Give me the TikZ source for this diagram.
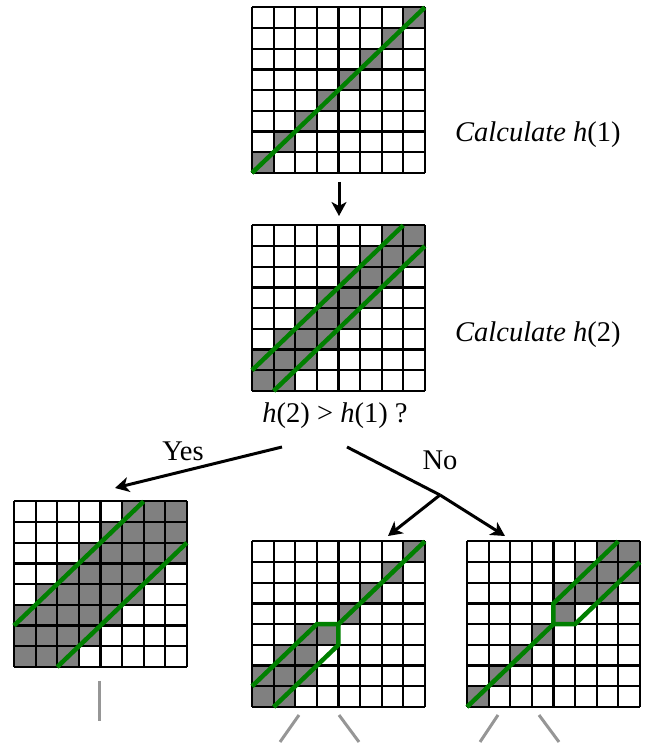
\documentclass[tikz,border=0pt]{standalone}
\usepackage{fontspec}
\setmainfont{Liberation Serif}
\usetikzlibrary{arrows.meta}
\definecolor{cellgray}{RGB}{128,128,128}
\definecolor{pathgreen}{RGB}{0,128,0}
\definecolor{branchgray}{RGB}{150,150,150}
\tikzset{
  gridline/.style={line width=2.2pt, black},
  greenline/.style={line width=4.5pt, pathgreen, line join=miter},
  flowarrow/.style={line width=3pt, black, -{Stealth[length=14pt,width=15pt,inset=4pt]}},
  flowline/.style={line width=3pt, black},
  grayline/.style={line width=3pt, branchgray},
  lbl/.style={font=\fontsize{28.5}{32}\selectfont, inner sep=0pt},
  gridscope/.style={x=21.6pt, y=20.7pt}
}
\newcommand{\drawgridlines}{%
  \foreach \i in {0,...,8} {
    \draw[gridline] (\i,0) -- (\i,8);
    \draw[gridline] (0,\i) -- (8,\i);
  }%
}
\begin{document}
\begin{tikzpicture}[x=1pt,y=1pt]
\useasboundingbox (0,0) rectangle (645,745);
% Grid 1
\begin{scope}[shift={(252pt,572pt)}, gridscope]
  \foreach \c in {0,...,7} \fill[cellgray] (\c,\c) rectangle ++(1,1);
  \drawgridlines
  \draw[greenline] (0,0) -- (8,8);
\end{scope}
% Grid 2
\begin{scope}[shift={(252pt,354pt)}, gridscope]
  \foreach \c/\r in {6/7,7/7,5/6,6/6,7/6,4/5,5/5,6/5,3/4,4/4,5/4,2/3,3/3,4/3,1/2,2/2,3/2,0/1,1/1,2/1,0/0,1/0}
    \fill[cellgray] (\c,\r) rectangle ++(1,1);
  \drawgridlines
  \draw[greenline] (0,1) -- (7,8);
  \draw[greenline] (1,0) -- (8,7);
\end{scope}
% Grid 3 (Yes)
\begin{scope}[shift={(14pt,78pt)}, gridscope]
  \foreach \c/\r in {5/7,6/7,7/7,4/6,5/6,6/6,7/6,3/5,4/5,5/5,6/5,7/5,2/4,3/4,4/4,5/4,6/4,1/3,2/3,3/3,4/3,5/3,0/2,1/2,2/2,3/2,4/2,0/1,1/1,2/1,3/1,0/0,1/0,2/0}
    \fill[cellgray] (\c,\r) rectangle ++(1,1);
  \drawgridlines
  \draw[greenline] (0,2) -- (6,8);
  \draw[greenline] (2,0) -- (8,6);
\end{scope}
% Grid 4
\begin{scope}[shift={(252pt,38pt)}, gridscope]
  \foreach \c/\r in {7/7,6/6,5/5,4/4,2/3,3/3,1/2,2/2,0/1,1/1,2/1,0/0,1/0}
    \fill[cellgray] (\c,\r) rectangle ++(1,1);
  \drawgridlines
  \draw[greenline] (0,1) -- (3,4) -- (4,4) -- (8,8);
  \draw[greenline] (1,0) -- (4,3) -- (4,4);
\end{scope}
% Grid 5
\begin{scope}[shift={(467pt,38pt)}, gridscope]
  \foreach \c/\r in {6/7,7/7,5/6,6/6,7/6,4/5,5/5,6/5,4/4,3/3,2/2,1/1,0/0}
    \fill[cellgray] (\c,\r) rectangle ++(1,1);
  \drawgridlines
  \draw[greenline] (0,0) -- (4,4) -- (5,4) -- (8,7);
  \draw[greenline] (4,4) -- (4,5) -- (7,8);
\end{scope}
% Labels
\node[lbl, anchor=base west] (calc1) at (455,603) {\textit{Calculate h}(1)};
\node[lbl, anchor=base west] (calc2) at (455,403) {\textit{Calculate h}(2)};
\node[lbl, anchor=base] (question) at (335,322) {\textit{h}(2) > \textit{h}(1) ?};
\node[lbl, anchor=base] (yes) at (183,284) {Yes};
\node[lbl, anchor=base] (no) at (440,275) {No};
% Connector coordinates
\coordinate (a1s) at (339,563);
\coordinate (a1e) at (339,529);
\coordinate (ys) at (282,298);
\coordinate (ye) at (115,257);
\coordinate (ns) at (347,298);
\coordinate (nb) at (440,250);
\coordinate (nle) at (388,209);
\coordinate (nre) at (505,209);
\draw[flowarrow] (a1s) -- (a1e);
\draw[flowarrow] (ys) -- (ye);
\draw[flowline] (ns) -- (nb);
\draw[flowarrow] (nb) -- (nle);
\draw[flowarrow] (nb) -- (nre);
% Gray continuation lines
\coordinate (g1a) at (99,64);
\coordinate (g1b) at (99,24);
\draw[grayline] (g1a) -- (g1b);
\coordinate (g2a) at (299,30);
\coordinate (g2b) at (280,3);
\coordinate (g3a) at (339,30);
\coordinate (g3b) at (359,3);
\coordinate (g4a) at (498,30);
\coordinate (g4b) at (480,3);
\coordinate (g5a) at (539,30);
\coordinate (g5b) at (559,3);
\draw[grayline] (g2a) -- (g2b);
\draw[grayline] (g3a) -- (g3b);
\draw[grayline] (g4a) -- (g4b);
\draw[grayline] (g5a) -- (g5b);
\end{tikzpicture}
\end{document}
